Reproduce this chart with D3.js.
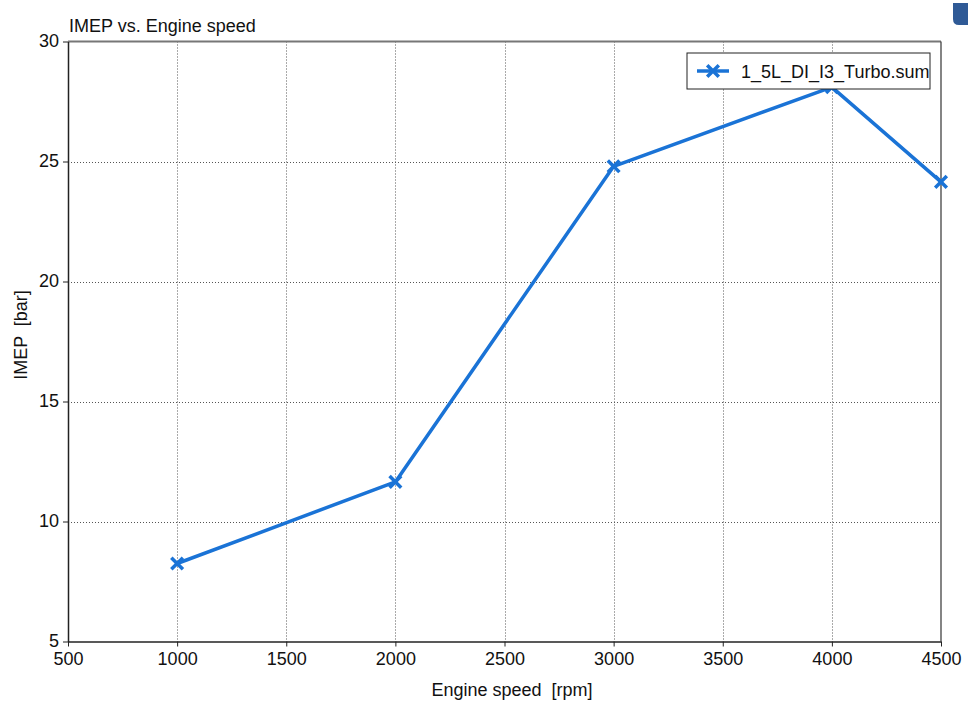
<!DOCTYPE html>
<html>
<head>
<meta charset="utf-8">
<script src="https://cdn.jsdelivr.net/npm/d3@7"></script>
<style>
  body { margin: 0; background: #fff; }
  svg { font-family: "Liberation Sans", Arial, sans-serif; }
</style>
</head>
<body>
<script>
// data
var speeds = [1000, 2000, 3000, 4000, 4500];
var imep = [8.25, 11.65, 24.8, 28.1, 24.15];
var xTicks = [500, 1000, 1500, 2000, 2500, 3000, 3500, 4000, 4500];
var yTicks = [5, 10, 15, 20, 25, 30];
var seriesName = '1_5L_DI_I3_Turbo.sum';

var width = 968, height = 702;
var margin = { top: 41.5, right: 27, bottom: 60.5, left: 68 };
var fs = 18;

var svg = d3.select('body').append('svg')
            .attr('width', width)
            .attr('height', height);

var x = d3.scaleLinear().domain([500, 4500]).range([margin.left, width - margin.right]);
var y = d3.scaleLinear().domain([5, 30]).range([height - margin.bottom, margin.top]);

// grid
svg.append('g').selectAll('line')
   .data(xTicks.slice(1, -1))
   .enter().append('line')
   .attr('x1', function (d) { return Math.round(x(d)) + 0.5; })
   .attr('x2', function (d) { return Math.round(x(d)) + 0.5; })
   .attr('y1', y(30)).attr('y2', y(5))
   .attr('stroke', '#555').attr('stroke-width', 1)
   .attr('stroke-dasharray', '1,2');

svg.append('g').selectAll('line')
   .data(yTicks.slice(1, -1))
   .enter().append('line')
   .attr('y1', function (d) { return Math.round(y(d)) + 0.5; })
   .attr('y2', function (d) { return Math.round(y(d)) + 0.5; })
   .attr('x1', x(500)).attr('x2', x(4500))
   .attr('stroke', '#555').attr('stroke-width', 1)
   .attr('stroke-dasharray', '1,2');

// frame: top & right
svg.append('line')
   .attr('x1', x(500)).attr('x2', x(4500))
   .attr('y1', y(30)).attr('y2', y(30))
   .attr('stroke', '#777').attr('stroke-width', 2);
svg.append('line')
   .attr('x1', x(4500)).attr('x2', x(4500))
   .attr('y1', y(30)).attr('y2', y(5))
   .attr('stroke', '#333').attr('stroke-width', 1.2);

// axes
var xAxis = svg.append('g')
   .attr('transform', 'translate(0,' + y(5) + ')')
   .call(d3.axisBottom(x).tickValues(xTicks).tickSize(5).tickSizeOuter(0).tickFormat(d3.format('d')));
var yAxis = svg.append('g')
   .attr('transform', 'translate(' + x(500) + ',0)')
   .call(d3.axisLeft(y).tickValues(yTicks).tickSize(5).tickSizeOuter(0).tickFormat(d3.format('d')));

[xAxis, yAxis].forEach(function (g) {
  g.select('.domain').attr('stroke', '#222').attr('stroke-width', 1.5);
  g.selectAll('.tick line').attr('stroke', '#222');
  g.selectAll('.tick text').attr('font-size', fs).attr('fill', '#111')
   .attr('font-family', '"Liberation Sans", Arial, sans-serif');
});
xAxis.selectAll('.tick text').attr('dy', '0.86em');
yAxis.selectAll('.tick text').attr('dx', '-0.05em').attr('dy', '0.3em');

// axis titles
svg.append('text')
   .attr('x', 512).attr('y', 696)
   .attr('text-anchor', 'middle').attr('font-size', fs).attr('fill', '#111')
   .style('white-space', 'pre')
   .text('Engine speed  [rpm]');
svg.append('text')
   .attr('transform', 'translate(27,335) rotate(-90)')
   .attr('text-anchor', 'middle').attr('font-size', fs).attr('fill', '#111')
   .style('white-space', 'pre')
   .text('IMEP  [bar]');

// chart title
svg.append('text')
   .attr('x', 69).attr('y', 32)
   .attr('font-size', fs).attr('fill', '#111')
   .text('IMEP vs. Engine speed');

// series
var pts = speeds.map(function (s, i) { return [s, imep[i]]; });
var line = d3.line().x(function (d) { return x(d[0]); }).y(function (d) { return y(d[1]); });
var blue = '#1a73d6';

svg.append('path')
   .datum(pts)
   .attr('d', line)
   .attr('fill', 'none')
   .attr('stroke', blue)
   .attr('stroke-width', 3.5)
   .attr('stroke-linejoin', 'round');

var cross = d3.symbol().type(d3.symbolTimes).size(90);
svg.append('g').selectAll('path')
   .data(pts)
   .enter().append('path')
   .attr('transform', function (d) { return 'translate(' + x(d[0]) + ',' + y(d[1]) + ')'; })
   .attr('d', cross)
   .attr('fill', 'none')
   .attr('stroke', blue)
   .attr('stroke-width', 3.5);

// legend
var lg = svg.append('g').attr('transform', 'translate(687,53)');
lg.append('rect')
  .attr('width', 243).attr('height', 36)
  .attr('fill', '#fff').attr('stroke', '#222').attr('stroke-width', 1);
lg.append('line')
  .attr('x1', 10).attr('x2', 42).attr('y1', 18).attr('y2', 18)
  .attr('stroke', blue).attr('stroke-width', 3.5);
lg.append('path')
  .attr('transform', 'translate(26,18)')
  .attr('d', cross)
  .attr('fill', 'none')
  .attr('stroke', blue)
  .attr('stroke-width', 3.5);
lg.append('text')
  .attr('x', 54).attr('y', 24.5)
  .attr('font-size', fs).attr('fill', '#111')
  .text(seriesName);

// corner icon fragment
svg.append('path')
   .attr('d', 'M953,3 L968,3 L968,25 L959,25 Q953,25 953,19 Z')
   .attr('fill', '#2f5a96');
</script>
</body>
</html>
